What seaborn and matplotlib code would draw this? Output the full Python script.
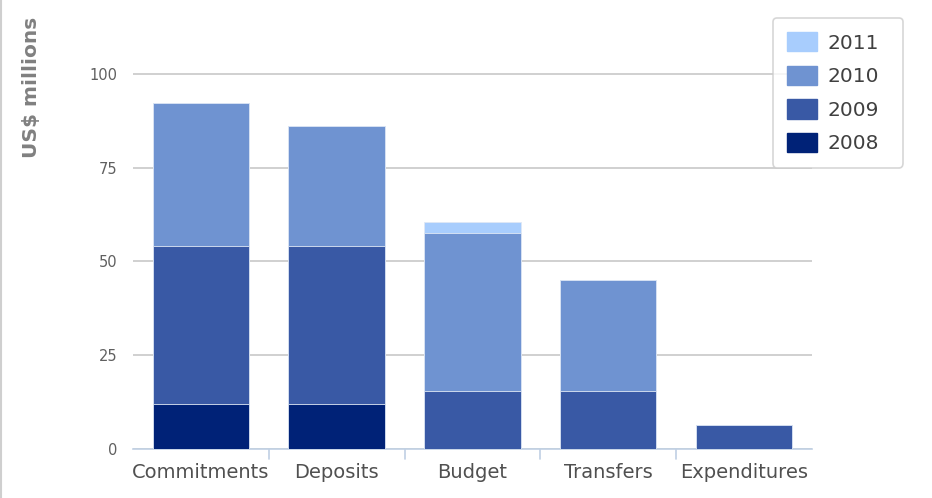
import pandas as pd
import numpy as np
import matplotlib.pyplot as plt
import seaborn as sns
from matplotlib.patches import Patch
from matplotlib.lines import Line2D

# donnees (US$ millions)
categories = ['Commitments', 'Deposits', 'Budget', 'Transfers', 'Expenditures']
years = ['2008', '2009', '2010', '2011']
v2008 = [12.0, 12.0, 0.0, 0.0, 0.0]
v2009 = [42.2, 42.2, 15.5, 15.5, 6.4]
v2010 = [38.1, 31.9, 42.1, 29.6, 0.0]
v2011 = [0.0, 0.0, 2.9, 0.0, 0.0]
colors = {'2008': '#002277', '2009': '#3959a5', '2010': '#6f93d1', '2011': '#a8cdfd'}

df = pd.DataFrame({'categorie': categories, '2008': v2008, '2009': v2009,
                   '2010': v2010, '2011': v2011})
long = df.melt(id_vars='categorie', var_name='annee', value_name='valeur')
# cumul pour empiler les barres
long['cumul'] = long.groupby('categorie')['valeur'].cumsum()

sns.set_style('white')
plt.rcParams['font.family'] = ['DejaVu Sans']

W, H = 932, 498
fig = plt.figure(figsize=(9.32, 4.98), dpi=100)
ax = fig.add_axes([0.1427, 0.0984, 0.7285, 0.8283])

# on dessine du haut vers le bas pour que chaque couche recouvre la precedente
for y in reversed(years):
    sub = long[long['annee'] == y]
    sns.barplot(data=sub, x='categorie', y='cumul', order=categories,
                color=colors[y], saturation=1, width=0.71, edgecolor='#dfe8f5',
                linewidth=0.6, ax=ax, zorder=3)

ax.set_ylim(0, 110)
ax.set_xlim(-0.5, 4.5)
ax.set_yticks([0, 25, 50, 75, 100])
ax.yaxis.grid(True, color='#c4c4c4', linewidth=1.1, zorder=0)
ax.set_xlabel('')
ax.set_ylabel('US$ millions', fontsize=14.5, fontweight='bold', color='#808080')
ax.yaxis.set_label_coords(-0.163, 1.047)
ax.yaxis.label.set_va('top')
ax.yaxis.label.set_ha('right')

for s in ['top', 'right', 'left']:
    ax.spines[s].set_visible(False)
ax.spines['bottom'].set_color('#c0d0e4')
ax.spines['bottom'].set_linewidth(1.2)

ax.tick_params(axis='y', length=0, labelsize=10.5, labelcolor='#606060', pad=11)
ax.tick_params(axis='x', length=0, labelsize=14, labelcolor='#505050', pad=10)
# petites graduations entre les categories
for b in [0.5, 1.5, 2.5, 3.5]:
    ax.add_line(Line2D([b, b], [0, -0.025], transform=ax.get_xaxis_transform(),
                       color='#c0d0e4', linewidth=1.2, clip_on=False))

handles = [Patch(facecolor=colors[y], edgecolor=colors[y], label=y) for y in reversed(years)]
leg = fig.legend(handles=handles, loc='upper left',
                 bbox_to_anchor=(773 / W, 1 - 170 / H, 130 / W, 152 / H), mode='expand',
                 fontsize=14.5, frameon=True, fancybox=True, handlelength=1.5,
                 handleheight=1.1, labelspacing=0.65, borderpad=0.7,
                 labelcolor='#404040', handletextpad=0.5, borderaxespad=0)
leg.get_frame().set_edgecolor('#cccccc')
leg.get_frame().set_linewidth(1.2)

# bordure grise a gauche de l'image
fig.add_artist(Line2D([0.001, 0.001], [0, 1], transform=fig.transFigure,
                      color='#cfcfcf', linewidth=1.5))

fig.savefig('out.png', dpi=100, facecolor='white')
